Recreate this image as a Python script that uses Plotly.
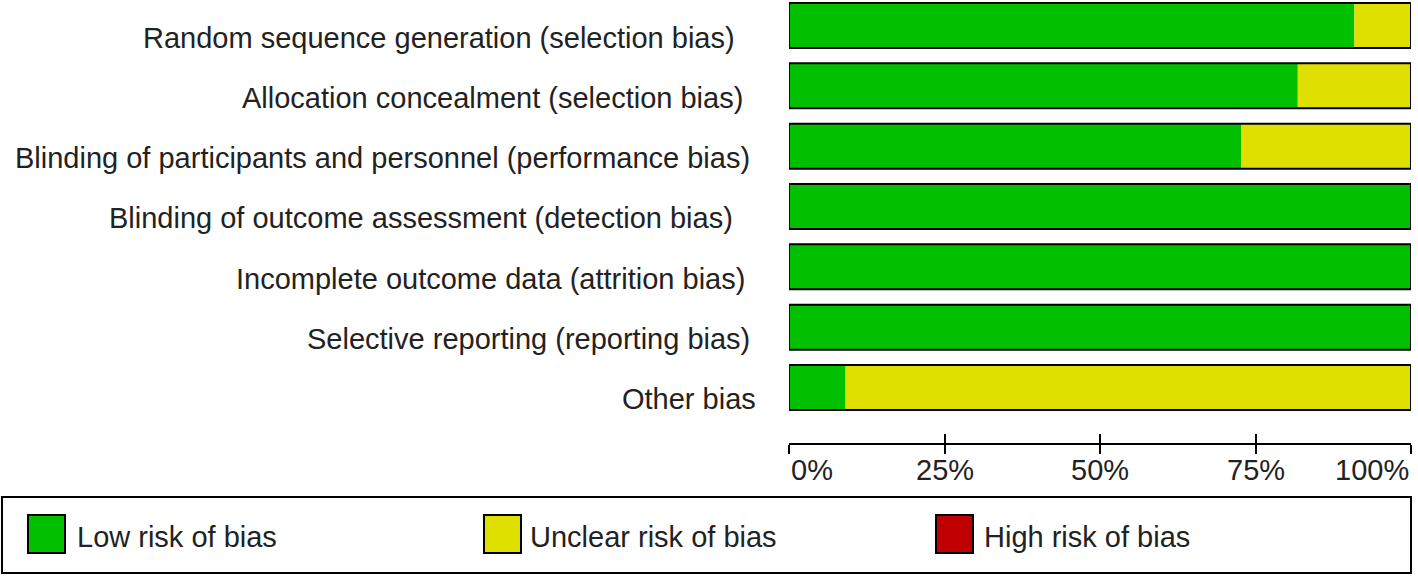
import plotly.graph_objects as go

domains = [
    "Random sequence generation (selection bias)",
    "Allocation concealment (selection bias)",
    "Blinding of participants and personnel (performance bias)",
    "Blinding of outcome assessment (detection bias)",
    "Incomplete outcome data (attrition bias)",
    "Selective reporting (reporting bias)",
    "Other bias",
]
low_risk = [90.9, 81.8, 72.7, 100.0, 100.0, 100.0, 9.1]
unclear_risk = [9.1, 18.2, 27.3, 0.0, 0.0, 0.0, 90.9]
high_risk = [0.0, 0.0, 0.0, 0.0, 0.0, 0.0, 0.0]
tick_vals = [0, 25, 50, 75, 100]
tick_text = ["0%", "25%", "50%", "75%", "100%"]
legend_names = ["Low risk of bias", "Unclear risk of bias", "High risk of bias"]

GREEN = "#00C000"
YELLOW = "#E0E000"
RED = "#C00000"
TXT = "#222222"
FONT = "Liberation Sans, Arial, sans-serif"
FS = 29

W, H = 1418, 576
L, R, T, B = 789, 7, 0, 133
PW = W - L - R
PH = H - T - B

def px2x(px):
    return (px - L) / PW

def py2y(py):
    return (T + PH - py) / PH

ypos = list(range(len(domains)))
bw = 0.746
base_unclear = low_risk
base_high = [a + b for a, b in zip(low_risk, unclear_risk)]

fig = go.Figure()
fig.add_trace(go.Bar(y=ypos, x=low_risk, base=[0] * len(ypos), orientation="h",
                     marker=dict(color=GREEN, line=dict(width=0)), width=bw,
                     name=legend_names[0], showlegend=False))
fig.add_trace(go.Bar(y=ypos, x=unclear_risk, base=base_unclear, orientation="h",
                     marker=dict(color=YELLOW, line=dict(width=0)), width=bw,
                     name=legend_names[1], showlegend=False))
fig.add_trace(go.Bar(y=ypos, x=high_risk, base=base_high, orientation="h",
                     marker=dict(color=RED, line=dict(width=0)), width=bw,
                     name=legend_names[2], showlegend=False))
totals = [a + b + c for a, b, c in zip(low_risk, unclear_risk, high_risk)]
fig.add_trace(go.Bar(y=ypos, x=totals, base=[0] * len(ypos), orientation="h",
                     marker=dict(color="rgba(0,0,0,0)", line=dict(width=2, color="black")),
                     width=bw, showlegend=False, hoverinfo="skip"))

# per-row label right edges (px)
label_right = [737, 745, 752, 735, 747, 752, 758]
annotations = []
for i, name in enumerate(domains):
    annotations.append(dict(x=px2x(label_right[i]), xref="paper", y=i, yref="y",
                            text=name, showarrow=False, xanchor="right", yanchor="middle",
                            yshift=-12, font=dict(family=FONT, size=FS, color=TXT)))

# tick labels
for v, t in zip(tick_vals, tick_text):
    anchor = "left" if v == tick_vals[0] else ("right" if v == tick_vals[-1] else "center")
    annotations.append(dict(x=v, xref="x", y=py2y(470), yref="paper", text=t,
                            showarrow=False, xanchor=anchor, yanchor="middle",
                            font=dict(family=FONT, size=FS, color=TXT)))

# custom legend
shapes = [dict(type="rect", xref="paper", yref="paper",
               x0=px2x(2), x1=px2x(1411), y0=py2y(573), y1=py2y(497),
               line=dict(color="black", width=2), fillcolor="white")]
sw_x = [28, 484, 936]
txt_x = [75, 528, 982]
sw_cols = [GREEN, YELLOW, RED]
for sx, tx, c, n in zip(sw_x, txt_x, sw_cols, legend_names):
    shapes.append(dict(type="rect", xref="paper", yref="paper",
                       x0=px2x(sx), x1=px2x(sx + 37), y0=py2y(553), y1=py2y(515),
                       line=dict(color="black", width=2), fillcolor=c))
    annotations.append(dict(x=px2x(tx), xref="paper", y=py2y(537), yref="paper",
                            text=n, showarrow=False, xanchor="left", yanchor="middle",
                            font=dict(family=FONT, size=FS, color=TXT)))

pitch = 60.33
c0 = 25.5
y_top = -c0 / pitch
y_bot = (PH - c0) / pitch

fig.update_layout(
    width=W, height=H, autosize=False,
    margin=dict(l=L, r=R, t=T, b=B, pad=0),
    paper_bgcolor="white", plot_bgcolor="white",
    barmode="overlay",
    showlegend=False,
    annotations=annotations,
    shapes=shapes,
    xaxis=dict(range=[0, 100], tickvals=tick_vals, showticklabels=False,
               ticks="outside", ticklen=9, tickwidth=2, tickcolor="black",
               showline=True, linewidth=2, linecolor="black",
               showgrid=False, zeroline=False, fixedrange=True),
    xaxis2=dict(range=[0, 100], tickvals=tick_vals, showticklabels=False,
                overlaying="x", anchor="y", side="bottom",
                ticks="inside", ticklen=9, tickwidth=2, tickcolor="black",
                showline=False, showgrid=False, zeroline=False),
    yaxis=dict(range=[y_bot, y_top], visible=False, showgrid=False, zeroline=False),
)
fig.add_trace(go.Scatter(x=[0], y=[0], xaxis="x2", yaxis="y", mode="markers",
                         marker=dict(opacity=0), showlegend=False, hoverinfo="skip"))

fig.write_html("out.html", config={"displayModeBar": False},
               post_script="document.body.style.margin='0';document.body.style.overflow='hidden';")
